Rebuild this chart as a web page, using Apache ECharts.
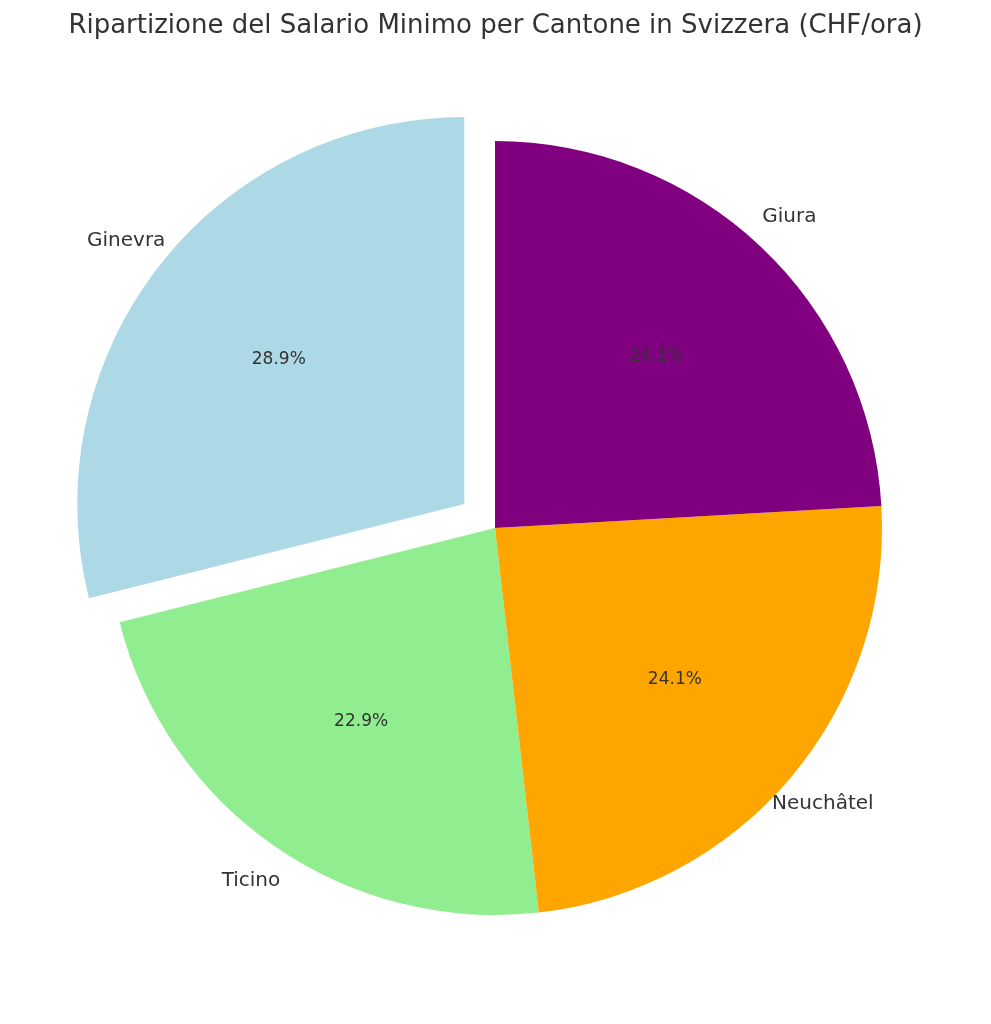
<!DOCTYPE html>
<html><head><meta charset="utf-8">
<script src="https://cdn.jsdelivr.net/npm/echarts@6/dist/echarts.min.js"></script>
<style>html,body{margin:0;background:#fff}#c{width:991px;height:1024px}</style></head>
<body><div id="c"></div>
<script>
const categories = ['Ginevra','Ticino','Neuchâtel','Giura'];
const values = [24, 19, 20, 20];
const colors = ['#add8e6','#90ee90','#ffa500','#800080'];
const aligns = ['right','right','left','left'];
const R = 387, C = [495, 528], OFF = 39;
const chart = echarts.init(document.getElementById('c'));
const font = 'DejaVu Sans';
const base = {type:'pie', center:C, startAngle:90, clockwise:false, selectedMode:'multiple', selectedOffset:OFF, animation:false};
chart.setOption({
  title:{text:'Ripartizione del Salario Minimo per Cantone in Svizzera (CHF/ora)', left:'center', top:8,
    textStyle:{fontFamily:font, fontSize:26, fontWeight:'normal', color:'#333'}},
  series:[
    Object.assign({}, base, {radius:[0,R], label:{show:false}, labelLine:{show:false},
      data:categories.map((n,i)=>({name:n, value:values[i], selected:i===0, itemStyle:{color:colors[i]}}))}),
    Object.assign({}, base, {radius:[0,R*1.2], silent:true, z:3,
      label:{show:true, position:'inside', formatter:p=>p.percent.toFixed(1)+'%', fontFamily:font, fontSize:17, color:'#333'},
      data:categories.map((n,i)=>({name:n, value:values[i], selected:i===0, itemStyle:{color:'transparent'}}))}),
    Object.assign({}, base, {radius:[0,R*2.2], silent:true, z:3,
      label:{show:true, position:'inside', formatter:'{b}', fontFamily:font, fontSize:20, color:'#333'},
      data:categories.map((n,i)=>({name:n, value:values[i], selected:i===0, itemStyle:{color:'transparent'}, label:{align:aligns[i]}}))})
  ]
});
</script></body></html>
